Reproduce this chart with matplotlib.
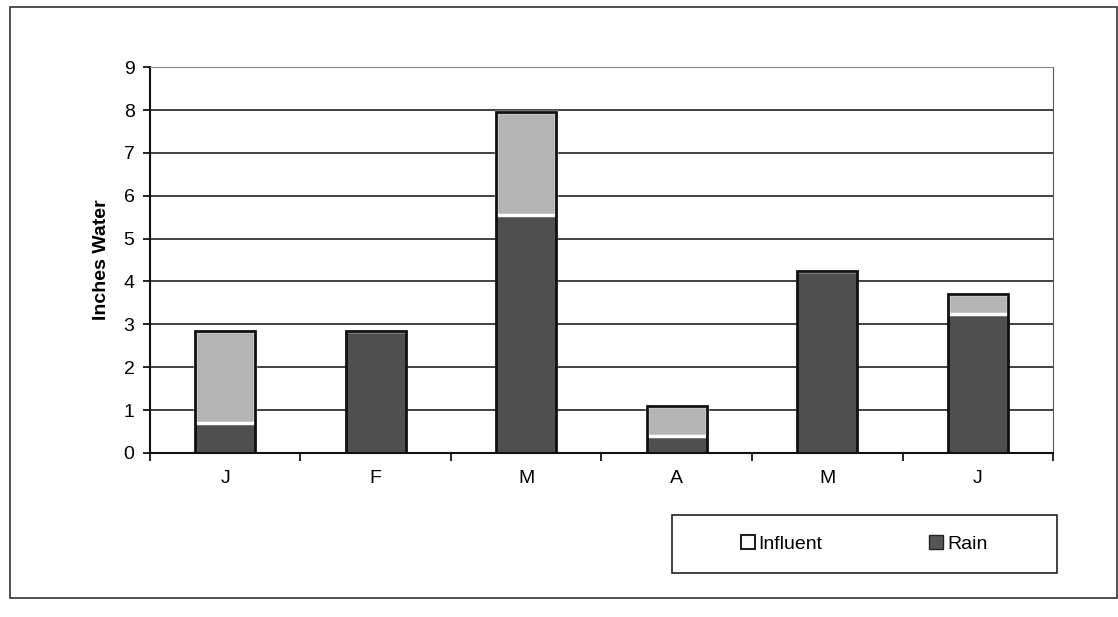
import numpy as np
import matplotlib
matplotlib.use("Agg")
import matplotlib.pyplot as plt
from matplotlib.patches import Patch, Rectangle

months = ["J", "F", "M", "A", "M", "J"]
rain = [0.7, 2.85, 5.55, 0.4, 4.25, 3.25]
influent = [2.15, 0.0, 2.4, 0.7, 0.0, 0.45]

plt.rcParams["font.family"] = ["Liberation Sans", "DejaVu Sans"]

fig = plt.figure(figsize=(11.18, 6.17), dpi=100)
ax = fig.add_axes([0.134, 0.266, 0.808, 0.625])

x = np.arange(len(months))
rain = np.array(rain)
influent = np.array(influent)
w = 0.4

# grid behind bars
ax.set_axisbelow(True)
ax.yaxis.grid(True, color="#222222", linewidth=1.2)

ax.bar(x, rain, w, color="#4f4f4f", edgecolor="none", zorder=2)
ax.bar(x, influent, w, bottom=rain, color="#b4b4b4", edgecolor="white",
       linewidth=2.5, zorder=2)
# black outline round the whole stack
ax.bar(x, rain + influent, w, color="none", edgecolor="#111111",
       linewidth=2, zorder=3)

ax.set_xlim(-0.5, len(months) - 0.5)
ax.set_ylim(0, 9)
ax.set_yticks(range(0, 10))
ax.set_xticks(x)
ax.set_xticklabels(months)
ax.set_xticks(np.arange(-0.5, len(months)), minor=True)
ax.tick_params(axis="x", which="major", length=0, pad=12, labelsize=14)
ax.tick_params(axis="x", which="minor", length=6, width=1.2, direction="out")
ax.tick_params(axis="y", length=5, width=1.2, labelsize=14, pad=6)
ax.set_ylabel("Inches Water", fontsize=14, fontweight="bold", labelpad=10)

for s in ["left", "bottom"]:
    ax.spines[s].set_linewidth(1.5)
    ax.spines[s].set_color("#111111")
ax.spines["top"].set_color("#888888")
ax.spines["right"].set_color("#555555")

# legend box
fig.patches.append(Rectangle((0.601, 0.071), 0.344, 0.094, transform=fig.transFigure,
                             fill=False, edgecolor="#222222", linewidth=1.2))
handles = [Patch(facecolor="white", edgecolor="#222222", linewidth=1.5, label="Influent"),
           Patch(facecolor="#555555", edgecolor="#222222", linewidth=1, label="Rain")]
fig.legend(handles=handles, loc="center", bbox_to_anchor=(0.773, 0.118), ncol=2,
           frameon=False, handlelength=0.7, handleheight=0.7, handletextpad=0.2,
           columnspacing=5.5, fontsize=14)

# outer border of the figure
fig.patches.append(Rectangle((0.009, 0.03), 0.99, 0.958, transform=fig.transFigure,
                             fill=False, edgecolor="#333333", linewidth=1.2))

fig.savefig("out.png", dpi=100)
